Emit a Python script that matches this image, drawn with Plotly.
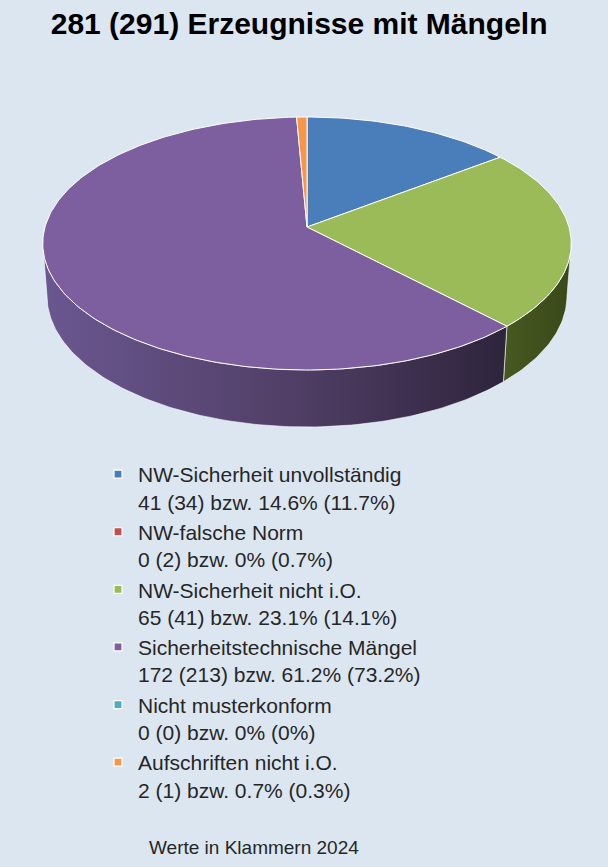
import math
import plotly.graph_objects as go

# Data (counts 2025, values in brackets are 2024)
categories = ['NW-Sicherheit unvollständig', 'NW-falsche Norm', 'NW-Sicherheit nicht i.O.',
              'Sicherheitstechnische Mängel', 'Nicht musterkonform', 'Aufschriften nicht i.O.']
counts = [41, 0, 65, 172, 0, 2]
counts_prev = [34, 2, 41, 213, 0, 1]
pct = ['14.6%', '0%', '23.1%', '61.2%', '0%', '0.7%']
pct_prev = ['11.7%', '0.7%', '14.1%', '73.2%', '0%', '0.3%']

top_colors = ['#4a7ebb', '#c0504d', '#9bbb59', '#7d5fa0', '#4bacc6', '#f79646']
side_scales = [
    [[0, '#2f4a6e'], [1, '#22364f']],
    [[0, '#7a2f2d'], [1, '#5a2220']],
    [[0, '#475a21'], [1, '#394818']],
    [[0, '#6b5791'], [0.55, '#503e65'], [1, '#2e243c']],
    [[0, '#2f6b7b'], [1, '#22505c']],
    [[0, '#9a5a2a'], [1, '#7a461f']],
]
BG = '#dce6f1'

# pie projection (simple perspective of a tilted disc)
CX, CY = 307, 227
R = 262
D = 6.75
COS_A, SIN_A = 0.880, 0.4746
F = R * D
H = 0.229


def proj(theta, drop=0.0):
    t = math.radians(theta)
    X = math.sin(t)
    Z = -math.cos(t)
    w = D - COS_A * Z + drop * SIN_A
    return CX + F * X / w, CY + F * (Z * SIN_A + drop * COS_A) / w


def arc(a0, a1, drop=0.0):
    n = max(2, int(abs(a1 - a0)) + 1)
    pts = [proj(a0 + (a1 - a0) * i / (n - 1), drop) for i in range(n)]
    return [p[0] for p in pts], [p[1] for p in pts]


total = sum(counts)
starts, ends = [], []
acc = 0
for v in counts:
    starts.append(acc / total * 360)
    acc += v
    ends.append(acc / total * 360)

# silhouette of the side wall
sil = math.degrees(math.acos(-COS_A / D))
vis0, vis1 = sil, 360 - sil

fig = go.Figure()

# side walls
for i, v in enumerate(counts):
    a0, a1 = max(starts[i], vis0), min(ends[i], vis1)
    if v == 0 or a1 <= a0:
        continue
    tx, ty = arc(a0, a1)
    bx, by = arc(a1, a0, H)
    xs = tx + bx + [tx[0]]
    ys = ty + by + [ty[0]]
    fig.add_trace(go.Scatter(
        x=xs, y=ys, mode='lines', fill='toself',
        line=dict(color='rgba(255,255,255,0.75)', width=0.8),
        fillgradient=dict(type='horizontal', colorscale=side_scales[i],
                          start=min(xs), stop=max(xs)),
        hoverinfo='skip', showlegend=False))

# top surface
for i, v in enumerate(counts):
    if v == 0:
        continue
    ax, ay = arc(starts[i], ends[i])
    xs = [CX] + ax + [CX]
    ys = [CY] + ay + [CY]
    fig.add_trace(go.Scatter(
        x=xs, y=ys, mode='lines', fill='toself', fillcolor=top_colors[i],
        line=dict(color='white', width=1),
        hoverinfo='skip', showlegend=False))

# legend entries
for i, name in enumerate(categories):
    label = f'{name}<br>{counts[i]} ({counts_prev[i]}) bzw. {pct[i]} ({pct_prev[i]})'
    fig.add_trace(go.Scatter(
        x=[None], y=[None], mode='markers', name=label, legendgroup=str(i),
        marker=dict(symbol='square', size=8, color=top_colors[i],
                    line=dict(color='white', width=1.2))))

fig.add_annotation(text='Werte in Klammern 2024', x=254, y=847, xref='x', yref='y',
                   showarrow=False, font=dict(size=19, color='#262626'))

fig.update_xaxes(range=[0, 608], visible=False, fixedrange=True)
fig.update_yaxes(range=[867, 0], visible=False, fixedrange=True)
fig.update_layout(
    width=608, height=867,
    margin=dict(l=0, r=0, t=0, b=0),
    paper_bgcolor=BG, plot_bgcolor=BG,
    font=dict(family='Liberation Sans, Arial, sans-serif', color='#262626'),
    title=dict(text='<b>281 (291) Erzeugnisse mit Mängeln</b>', x=0.492, xanchor='center',
               y=1 - 23 / 867, yanchor='middle', font=dict(size=30, color='black')),
    legend=dict(x=98 / 608, y=1 - 454 / 867, xanchor='left', yanchor='top',
                bgcolor='rgba(0,0,0,0)', font=dict(size=21, color='#262626'),
                valign='top', tracegroupgap=1, traceorder='normal'),
)

fig.write_html('out.html', config={'displayModeBar': False},
               post_script="document.body.style.margin='0';")
